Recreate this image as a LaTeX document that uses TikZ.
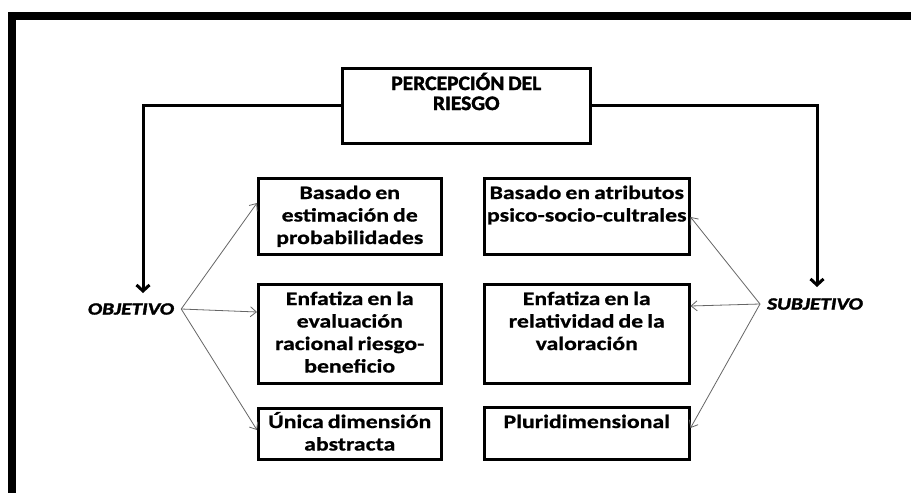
\documentclass[tikz,border=0pt]{standalone}
\usepackage{fontspec}
\usetikzlibrary{arrows.meta}
\newfontfamily\boxfont{Carlito}[FakeStretch=1.25,WordSpace=0.75,FakeBold=0.8]
\newfontfamily\labelfont{Carlito}[FakeStretch=1.25,FakeBold=2]
\newfontfamily\topfont{Carlito}[FakeStretch=1.05,WordSpace=0.75,FakeBold=2]
\tikzset{
  x=1pt, y=-1pt,
  boxshape/.style={draw=black, line width=2.5pt, fill=white, inner sep=0pt, anchor=north west},
  boxtext/.style={inner sep=0pt, anchor=base, font=\boxfont\bfseries\fontsize{19}{22.5}\selectfont},
  toptext/.style={inner sep=0pt, anchor=base, font=\topfont\bfseries\fontsize{20.5}{20}\selectfont},
  sidelabel/.style={inner xsep=7pt, inner ysep=2pt, font=\labelfont\bfseries\itshape\fontsize{17}{18}\selectfont},
  thinarrow/.style={draw=black!60, line width=0.8pt, -{Straight Barb[length=6pt,width=10pt]}},
  thickarrow/.style={draw=black, line width=3pt, -{Straight Barb[length=6pt,width=13pt]}}
}
\begin{document}
\begin{tikzpicture}
\useasboundingbox (0,0) rectangle (911,493);
\fill[white] (0,0) rectangle (911,493);
% frame
\fill[black] (8,12) rectangle (911,20);
\fill[black] (8,12) rectangle (16,493);

% top box
\node[boxshape, minimum width=248pt, minimum height=75pt] (top) at (341,67) {};
\node[toptext] (topt) at ([yshift=-23pt]top.north) {\parbox[t]{240pt}{\centering PERCEPCIÓN DEL\\ RIESGO}};

% left boxes
\node[boxshape, minimum width=183pt, minimum height=76pt] (L1) at (257,177) {};
\node[boxtext] (L1t) at ([yshift=-22pt]L1.north) {\parbox[t]{180pt}{\centering Basado en\\ estimación de\\ probabilidades}};
\node[boxshape, minimum width=183pt, minimum height=99pt] (L2) at (257,283) {};
\node[boxtext] (L2t) at ([yshift=-22pt]L2.north) {\parbox[t]{180pt}{\centering Enfatiza en la\\ evaluación\\ racional riesgo-\\ beneficio}};
\node[boxshape, minimum width=183pt, minimum height=51pt] (L3) at (257,407) {};
\node[boxtext] (L3t) at ([yshift=-21pt]L3.north) {\parbox[t]{180pt}{\centering Única dimensión\\ abstracta}};

% right boxes
\node[boxshape, minimum width=205pt, minimum height=76pt] (R1) at (483,177) {};
\node[boxtext] (R1t) at ([yshift=-22pt]R1.north) {\parbox[t]{204pt}{\centering Basado en atributos\\ psico-socio-cultrales}};
\node[boxshape, minimum width=205pt, minimum height=99pt] (R2) at (483,283) {};
\node[boxtext] (R2t) at ([yshift=-22pt]R2.north) {\parbox[t]{204pt}{\centering Enfatiza en la\\ relatividad de la\\ valoración}};
\node[boxshape, minimum width=205pt, minimum height=52pt] (R3) at (483,406) {};
\node[boxtext] (R3t) at ([yshift=-22pt]R3.north) {\parbox[t]{204pt}{\centering Pluridimensional}};

% side labels
\node[sidelabel] (obj) at (131,309) {OBJETIVO};
\node[sidelabel] (sub) at (815,304) {SUBJETIVO};

% thick arrows from the top box
\coordinate (objin) at (143,293);
\coordinate (subin) at (817,287);
\draw[thickarrow] (top.west) -| (objin);
\draw[thickarrow] (top.east) -| (subin);

% thin arrows
\draw[thinarrow] (obj.east) -- ([yshift=-26pt]L1.north west);
\draw[thinarrow] (obj.east) -- ([yshift=-29pt]L2.north west);
\draw[thinarrow] (obj.east) -- ([yshift=-23pt]L3.north west);
\draw[thinarrow] (sub.west) -- ([yshift=-40pt]R1.north east);
\draw[thinarrow] (sub.west) -- ([yshift=-23pt]R2.north east);
\draw[thinarrow] (sub.west) -- ([yshift=-22pt]R3.north east);
\end{tikzpicture}
\end{document}
